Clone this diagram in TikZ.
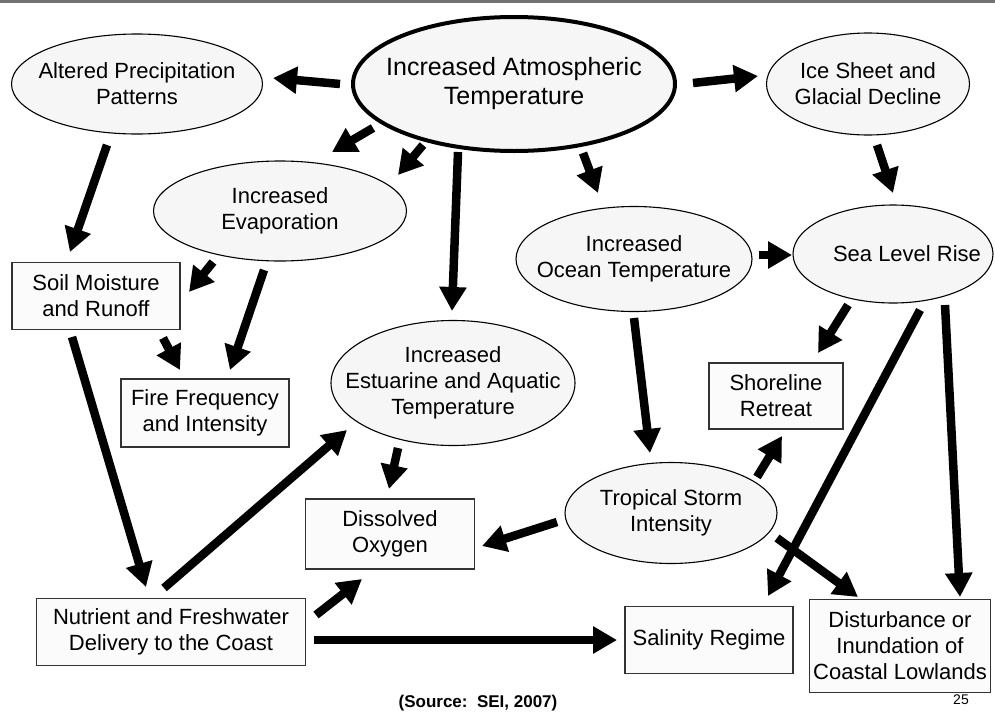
\documentclass[tikz,border=0pt]{standalone}
\usepackage{fontspec}
\setmainfont{Liberation Sans}
\usetikzlibrary{shapes.geometric, arrows.meta}
\tikzset{
    bubble/.style={
           ellipse,
           draw=black, line width=1.1pt,
           fill=gray!7,
           inner xsep=-30pt, inner ysep=0pt,
           align=center,
           font=\fontsize{22}{26}\selectfont,
           },
    effect/.style={
           rectangle,
           draw=black!80, line width=1.1pt,
           fill=gray!3,
           inner sep=2pt,
           align=center,
           font=\fontsize{22}{26}\selectfont,
           },
}

\begin{document}
\begin{tikzpicture}[x=1pt, y=-1pt, ->, >={Triangle[length=24pt,width=26pt]}, line width=8.5pt]
  \useasboundingbox (0,0) rectangle (995,715);
  \fill[-, black!55] (0,0) rectangle (995,2.5);

  \node[bubble, line width=4pt, minimum width=322pt, minimum height=134pt,
        font=\fontsize{25}{29}\selectfont]                         (atmo)      at (514,84)  {Increased Atmospheric\\Temperature};
  \node[bubble, minimum width=251pt, minimum height=100pt]       (altered)   at (137,84)  {Altered Precipitation\\Patterns};
  \node[bubble, minimum width=203pt, minimum height=102pt]       (ice)       at (868,84)  {Ice Sheet and\\Glacial Decline};
  \node[bubble, minimum width=253pt, minimum height=100pt]       (evap)      at (280,211) {Increased\\Evaporation};
  \node[bubble, minimum width=236pt, minimum height=105pt]       (ocean)     at (634,259) {Increased\\Ocean Temperature};
  \node[bubble, minimum width=200pt, minimum height=98pt]        (sealevel)  at (893,254) {\hspace*{28pt}Sea Level Rise};
  \node[bubble, minimum width=244pt, minimum height=125pt]       (estuarine) at (453,383) {Increased\\Estuarine and Aquatic\\Temperature};
  \node[bubble, minimum width=212pt, minimum height=101pt]       (tropical)  at (671,513) {Tropical Storm\\Intensity};

  \node[effect, minimum width=168pt, minimum height=67pt]        (soil)      at (96,296)  {Soil Moisture\\and Runoff};
  \node[effect, minimum width=168pt, minimum height=68pt]        (fire)      at (205,413) {Fire Frequency\\and Intensity};
  \node[effect, minimum width=134pt, minimum height=66pt]        (shoreline) at (776,396) {Shoreline\\Retreat};
  \node[effect, minimum width=169pt, minimum height=70pt]        (dissolved) at (390,534) {Dissolved\\Oxygen};
  \node[effect, minimum width=269pt, minimum height=67pt]        (nutrient)  at (171,632) {Nutrient and Freshwater\\Delivery to the Coast};
  \node[effect, minimum width=168pt, minimum height=67pt]        (salinity)  at (709,640) {Salinity Regime};
  \node[effect, minimum width=181pt, minimum height=93pt]        (disturb)   at (900,646) {Disturbance or\\Inundation of\\Coastal Lowlands};

  \node[anchor=base, font=\fontsize{17}{20}\selectfont\bfseries] (source) at (478,707) {(Source:~~SEI, 2007)};
  \node[anchor=base, font=\fontsize{14}{16}\selectfont]          (page)   at (961,704) {25};

% atmospheric temperature drives the first ring
  \draw ([shift={(-174,0)}]atmo.center)   -- ([shift={(136,-6)}]altered.center);
  \draw ([shift={(-141,44)}]atmo.center)  -- ([shift={(52,-59)}]evap.center);
  \draw ([shift={(-91,61)}]atmo.center)   -- ([shift={(118,-36)}]evap.center);
  \draw ([shift={(-56,68)}]atmo.center)   -- ([shift={(-1,-72)}]estuarine.center);
  \draw ([shift={(69,69)}]atmo.center)    -- ([shift={(-36,-66)}]ocean.center);
  \draw ([shift={(179,-1)}]atmo.center)   -- ([shift={(-110,-8)}]ice.center);

% left side: precipitation, evaporation, runoff
  \draw ([shift={(-30,61)}]altered.center) -- ([shift={(-26,-44)}]soil.center);
  \draw ([shift={(-67,51)}]evap.center)    -- ([shift={(93,-4)}]soil.center);
  \draw ([shift={(-16,59)}]evap.center)    -- ([shift={(25,-43)}]fire.center);
  \draw ([shift={(67,42)}]soil.center)     -- ([shift={(-25,-43)}]fire.center);
  \draw ([shift={(-24,41)}]soil.center)    -- ([shift={(-25,-45)}]nutrient.center);

% right side: ice, ocean and sea level
  \draw ([shift={(9,61)}]ice.center)         -- ([shift={(0,-61)}]sealevel.center);
  \draw ([shift={(125,-4)}]ocean.center)     -- ([shift={(-101,1)}]sealevel.center);
  \draw ([shift={(0,59)}]ocean.center)       -- ([shift={(-21,-60)}]tropical.center);
  \draw ([shift={(-45,51)}]sealevel.center)  -- ([shift={(42,-43)}]shoreline.center);
  \draw ([shift={(27,56)}]sealevel.center)   -- ([shift={(59,-44)}]salinity.center);
  \draw ([shift={(52,51)}]sealevel.center)   -- ([shift={(60,-49)}]disturb.center);

% storms
  \draw ([shift={(86,-36)}]tropical.center)  -- ([shift={(6,40)}]shoreline.center);
  \draw ([shift={(-114,9)}]tropical.center)  -- ([shift={(92,12)}]dissolved.center);
  \draw ([shift={(106,25)}]tropical.center)  -- ([shift={(-42,-49)}]disturb.center);

% estuary and coastal delivery
  \draw ([shift={(-55,65)}]estuarine.center) -- ([shift={(-1,-45)}]dissolved.center);
  \draw ([shift={(-7,-44)}]nutrient.center)  -- ([shift={(-106,47)}]estuarine.center);
  \draw ([shift={(145,-17)}]nutrient.center) -- ([shift={(-28,45)}]dissolved.center);
  \draw ([shift={(143,8)}]nutrient.center)   -- ([shift={(-92,0)}]salinity.center);

\end{tikzpicture}
\end{document}
